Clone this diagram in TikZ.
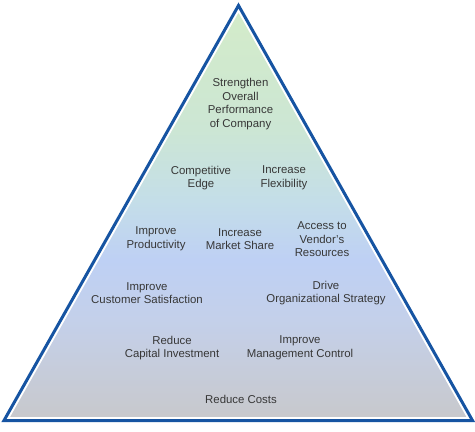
\documentclass[tikz,border=0pt]{standalone}
\usepackage{fontspec}
\setmainfont{Liberation Sans}
\definecolor{pyrblue}{RGB}{22,84,162}
\definecolor{txtgray}{RGB}{55,55,55}
\definecolor{cgreen}{RGB}{212,236,200}
\definecolor{cmint}{RGB}{204,230,212}
\definecolor{cteal}{RGB}{196,222,232}
\definecolor{cblue}{RGB}{190,208,244}
\definecolor{cblue2}{RGB}{196,208,234}
\definecolor{cgray}{RGB}{200,200,202}
\begin{document}
\begin{tikzpicture}[x=1pt,y=-1pt,
  lbl/.style={align=center,text=txtgray,font=\fontsize{11.4}{13.6}\selectfont,inner sep=0pt}]
\useasboundingbox (0,0) rectangle (475,432);
\coordinate (apex) at (238.5,5.5);
\coordinate (bl) at (4,420.5);
\coordinate (br) at (472.5,420.5);
\begin{scope}
  \clip (apex) -- (br) -- (bl) -- cycle;
  \shade[top color=cgreen,bottom color=cmint] (0,0) rectangle (475,130);
  \shade[top color=cmint,bottom color=cteal] (0,130) rectangle (475,200);
  \shade[top color=cteal,bottom color=cblue] (0,200) rectangle (475,260);
  \shade[top color=cblue,bottom color=cblue2] (0,260) rectangle (475,320);
  \shade[top color=cblue2,bottom color=cgray] (0,320) rectangle (475,425);
\end{scope}
\draw[white,line width=7pt,line join=miter] (apex) -- (br) -- (bl) -- cycle;
\draw[pyrblue,line width=3pt,line join=miter] (apex) -- (br) -- (bl) -- cycle;

\node[lbl] (n1) at (240.5,104) {Strengthen\\Overall\\Performance\\of Company};
\node[lbl] (n2) at (201,178) {Competitive\\Edge};
\node[lbl] (n3) at (284,178) {Increase\\Flexibility};
\node[lbl] (n4) at (156,239) {Improve\\Productivity};
\node[lbl] (n5) at (240,239) {Increase\\Market Share};
\node[lbl] (n6) at (322,239.5) {Access to\\Vendor’s\\Resources};
\node[lbl] (n7) at (147,293) {Improve\\Customer Satisfaction};
\node[lbl] (n8) at (326,293) {Drive\\Organizational Strategy};
\node[lbl] (n9) at (172,348) {Reduce\\Capital Investment};
\node[lbl] (n10) at (300,348) {Improve\\Management Control};
\node[lbl] (n11) at (241,399) {Reduce Costs};
\end{tikzpicture}
\end{document}
